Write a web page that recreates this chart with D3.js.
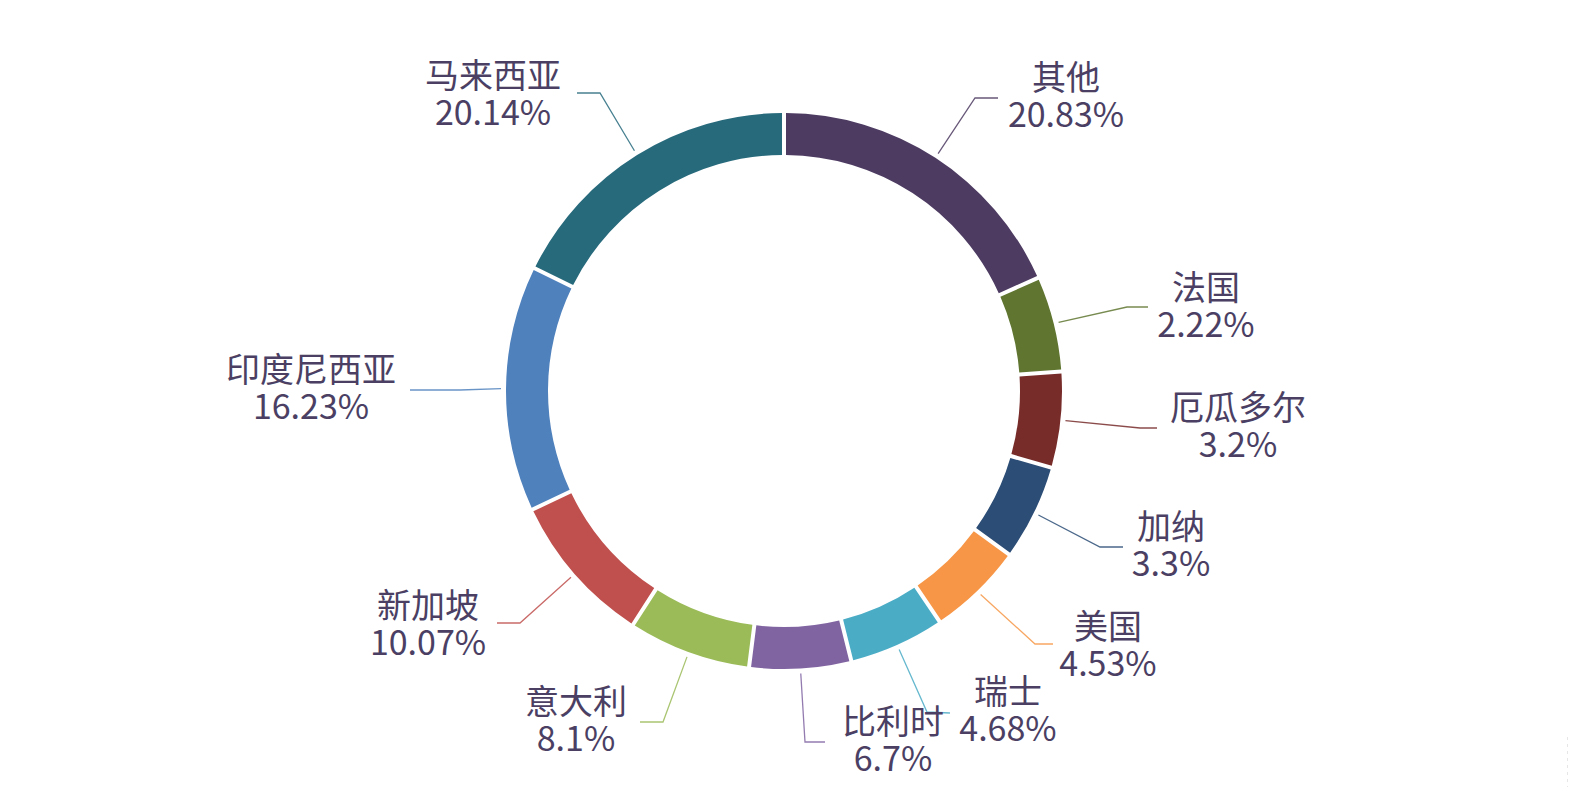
<!DOCTYPE html>
<html>
<head>
<meta charset="utf-8">
<script src="https://cdn.jsdelivr.net/npm/d3@7"></script>
<style>
  html, body { margin: 0; padding: 0; background: #ffffff; }
  svg { display: block; }
</style>
</head>
<body>
<svg id="chart" width="1570" height="787"></svg>
<script>
// ---- data ----
const categories = ["其他", "法国", "厄瓜多尔", "加纳", "美国", "瑞士", "比利时", "意大利", "新加坡", "印度尼西亚", "马来西亚"];
const shares = [20.83, 2.22, 3.2, 3.3, 4.53, 4.68, 6.7, 8.1, 10.07, 16.23, 20.14];
const colors = ["#4d3b62", "#5f7530", "#772c2a", "#2c4d75", "#f79646", "#4bacc6", "#8064a2", "#9bbb59", "#c0504d", "#4f81bd", "#276a7c"];

// ---- layout (label placement, not data) ----
const labelCenters = [
  [1066, 78], [1206, 288], [1238, 408], [1171, 527], [1108, 627], [1008, 692],
  [893, 722], [576, 702], [428, 606], [311, 370], [493, 76]
];
const elbows = [
  [975, 98], [1127, 307], [1140, 428], [1100, 547], [1035, 644], [927, 712],
  [805, 742], [663, 722], [520, 623], [460, 390], [600, 93]
];
const lineEnds = [
  [998, 98], [1148, 307], [1157, 428], [1123, 547], [1053, 644], [950, 713],
  [825, 742], [640, 722], [497, 623], [410, 390], [577, 93]
];

const W = 1570, H = 787;
const cx = 784, cy = 391;
const outerR = 278, innerR = 236;
const minAngleDeg = 20;
const lineH = 37;
const textColor = "#4b3f64";

// ECharts-like minAngle adjustment of slice angles
const total = d3.sum(shares);
let rest = 360, sumLarge = 0;
const constrained = shares.map(v => {
  const a = v / total * 360;
  if (a < minAngleDeg) { rest -= minAngleDeg; return true; }
  sumLarge += v; return false;
});
const displayAngles = shares.map((v, i) => constrained[i] ? minAngleDeg : v * rest / sumLarge);

const data = categories.map((c, i) => ({ name: c, value: shares[i], angle: displayAngles[i], color: colors[i], i }));

const pie = d3.pie().sort(null).value(d => d.angle).startAngle(0).endAngle(2 * Math.PI);
const arcs = pie(data);

const arc = d3.arc()
  .innerRadius(innerR)
  .outerRadius(outerR)
  .padAngle(4 / outerR)
  .padRadius(outerR);

const svg = d3.select("#chart");
svg.append("rect").attr("width", W).attr("height", H).attr("fill", "#ffffff");

const g = svg.append("g").attr("transform", `translate(${cx},${cy})`);
g.selectAll("path.slice")
  .data(arcs)
  .enter().append("path")
  .attr("class", "slice")
  .attr("d", arc)
  .attr("fill", d => d.data.color);

// leader lines
const lines = svg.append("g");
arcs.forEach((a, i) => {
  const mid = (a.startAngle + a.endAngle) / 2;
  const rs = outerR + 5;
  const sx = cx + rs * Math.sin(mid);
  const sy = cy - rs * Math.cos(mid);
  lines.append("polyline")
    .attr("points", [[sx, sy], elbows[i], lineEnds[i]].map(p => p.join(",")).join(" "))
    .attr("fill", "none")
    .attr("stroke", a.data.color)
    .attr("stroke-width", 1.3)
    .attr("opacity", 0.85);
});

// labels
const labels = svg.append("g")
  .attr("font-family", "'Noto Sans CJK SC', 'Noto Sans', sans-serif")
  .attr("font-size", 34)
  .attr("fill", textColor)
  .attr("text-anchor", "middle");
arcs.forEach((a, i) => {
  const [lx, ly] = labelCenters[i];
  const t = labels.append("text").attr("x", lx).attr("y", ly + 12);
  t.append("tspan").attr("x", lx).attr("dy", 0).text(a.data.name);
  t.append("tspan").attr("x", lx).attr("dy", lineH).text(a.data.value + "%");
});

// faint edge artifact at right bottom
svg.append("line")
  .attr("x1", 1567.5).attr("x2", 1567.5).attr("y1", 737).attr("y2", 787)
  .attr("stroke", "#e6e6e6").attr("stroke-width", 1).attr("stroke-dasharray", "3,4");
</script>
</body>
</html>
